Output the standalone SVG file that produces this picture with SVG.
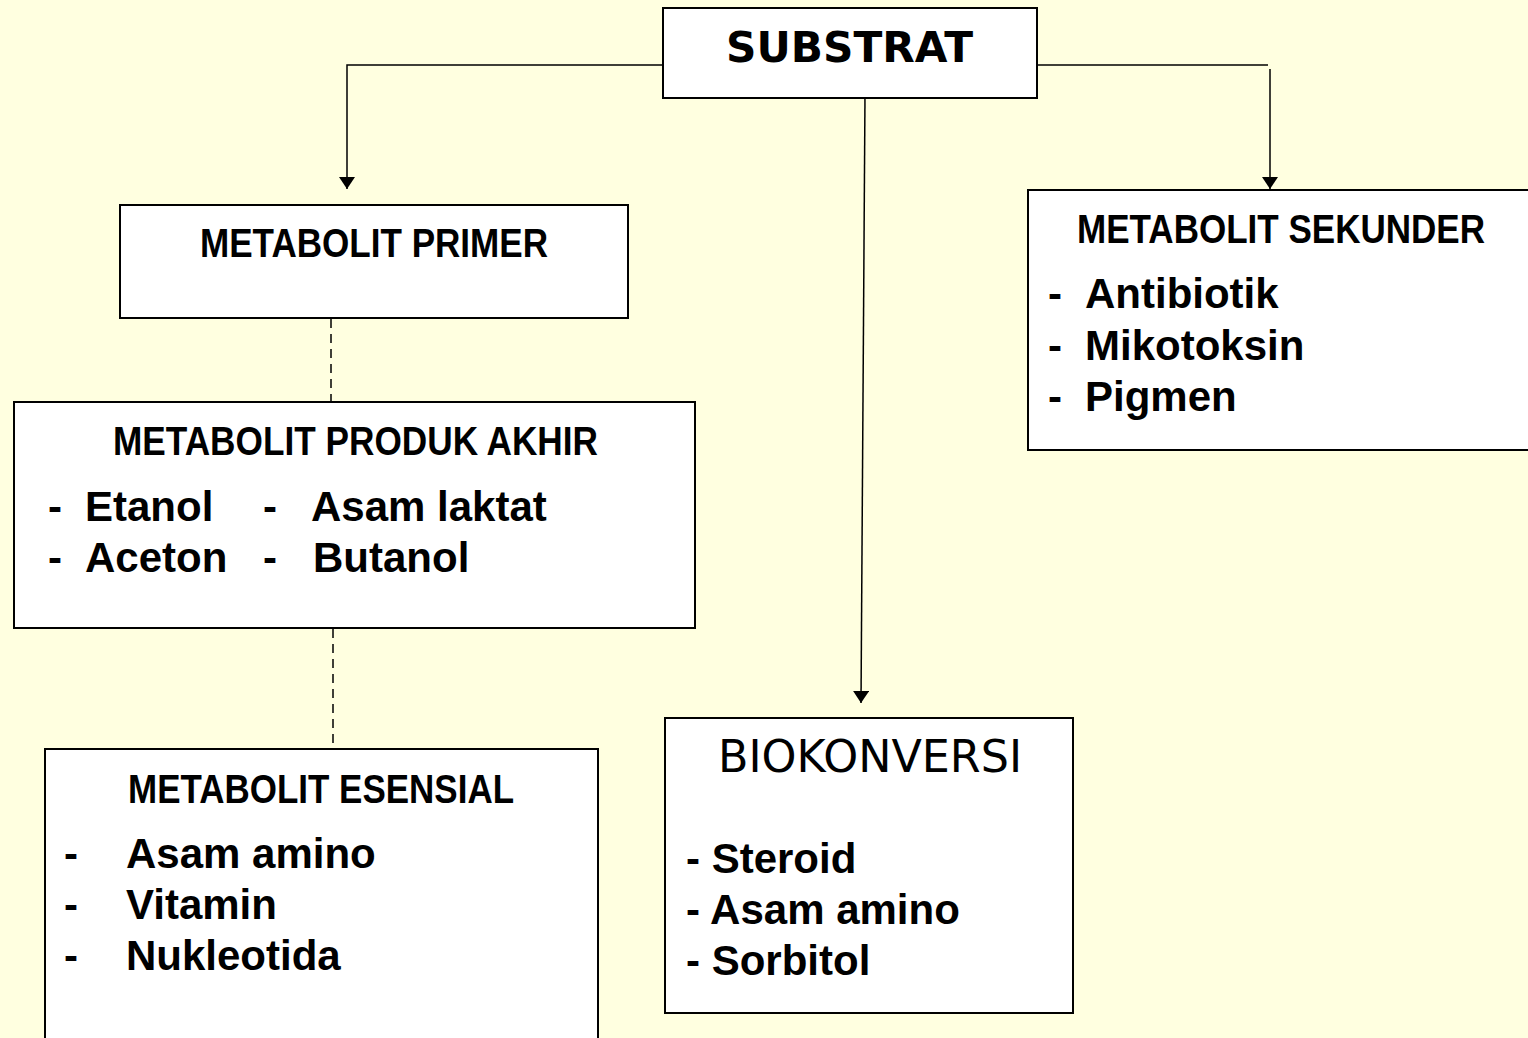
<svg xmlns="http://www.w3.org/2000/svg" width="1528" height="1038" viewBox="0 0 1528 1038">
<style>
.box{fill:#fff;stroke:#000;stroke-width:2}
.ln{fill:none;stroke:#000;stroke-width:1.5}
.dash{fill:none;stroke:#000;stroke-width:1.5;stroke-dasharray:9 6}
.title{font-family:"Liberation Sans",Arial,sans-serif;font-weight:bold;font-size:40px;fill:#000}
.item{font-family:"Liberation Sans",Arial,sans-serif;font-weight:bold;font-size:42px;fill:#000}
.dv{font-family:"DejaVu Sans",Verdana,sans-serif;fill:#000}
</style>
<defs>
<marker id="arr" markerWidth="12" markerHeight="16" refX="12" refY="8" orient="auto" markerUnits="userSpaceOnUse" viewBox="0 0 12 16">
<path d="M0,0 L12,8 L0,16 Z" fill="#000"/>
</marker>
</defs>
<rect width="1528" height="1038" fill="#FFFFE0"/>
<g id="connectors">
<polyline class="ln" points="668,65 347,65 347,189" marker-end="url(#arr)"/>
<line class="ln" x1="1037" y1="65" x2="1268" y2="65"/>
<line class="ln" x1="1270" y1="69" x2="1270" y2="189" marker-end="url(#arr)"/>
<line class="ln" x1="865" y1="94" x2="861" y2="703" marker-end="url(#arr)"/>
<line class="dash" x1="331" y1="319" x2="331" y2="401"/>
<line class="dash" x1="333" y1="629" x2="333" y2="748"/>
</g>
<g id="substrat">
<rect class="box" x="663" y="8" width="374" height="90"/>
<text class="dv" x="726" y="62" font-size="42" font-weight="bold" textLength="247" lengthAdjust="spacingAndGlyphs">SUBSTRAT</text>
</g>
<g id="metabolit-primer">
<rect class="box" x="120" y="205" width="508" height="113"/>
<text class="title" x="200" y="257" textLength="348" lengthAdjust="spacingAndGlyphs">METABOLIT PRIMER</text>
</g>
<g id="metabolit-produk-akhir">
<rect class="box" x="14" y="402" width="681" height="226"/>
<text class="title" x="113" y="455" textLength="485" lengthAdjust="spacingAndGlyphs">METABOLIT PRODUK AKHIR</text>
<text class="item" x="48" y="521">-</text>
<text class="item" x="85" y="521">Etanol</text>
<text class="item" x="263" y="521">-</text>
<text class="item" x="311" y="521">Asam laktat</text>
<text class="item" x="48" y="572">-</text>
<text class="item" x="85" y="572">Aceton</text>
<text class="item" x="263" y="572">-</text>
<text class="item" x="313" y="572">Butanol</text>
</g>
<g id="metabolit-sekunder">
<rect class="box" x="1028" y="190" width="501" height="260"/>
<text class="title" transform="translate(1077,243) scale(0.87,1)" x="0" y="0" textLength="469" lengthAdjust="spacingAndGlyphs">METABOLIT SEKUNDER</text>
<text class="item" x="1048" y="308">-</text>
<text class="item" x="1085" y="308">Antibiotik</text>
<text class="item" x="1048" y="360">-</text>
<text class="item" x="1085" y="360">Mikotoksin</text>
<text class="item" x="1048" y="411">-</text>
<text class="item" x="1085" y="411">Pigmen</text>
</g>
<g id="metabolit-esensial">
<rect class="box" x="45" y="749" width="553" height="290"/>
<text class="title" x="128" y="803" textLength="386" lengthAdjust="spacingAndGlyphs">METABOLIT ESENSIAL</text>
<text class="item" x="64" y="868">-</text>
<text class="item" x="126" y="868">Asam amino</text>
<text class="item" x="64" y="919">-</text>
<text class="item" x="126" y="919">Vitamin</text>
<text class="item" x="64" y="970">-</text>
<text class="item" x="126" y="970">Nukleotida</text>
</g>
<g id="biokonversi">
<rect class="box" x="665" y="718" width="408" height="295"/>
<text class="dv" x="718" y="772" font-size="44" textLength="304" lengthAdjust="spacingAndGlyphs">BIOKONVERSI</text>
<text class="item" x="686" y="873">- Steroid</text>
<text class="item" x="686" y="924">- Asam amino</text>
<text class="item" x="686" y="975">- Sorbitol</text>
</g>
</svg>
